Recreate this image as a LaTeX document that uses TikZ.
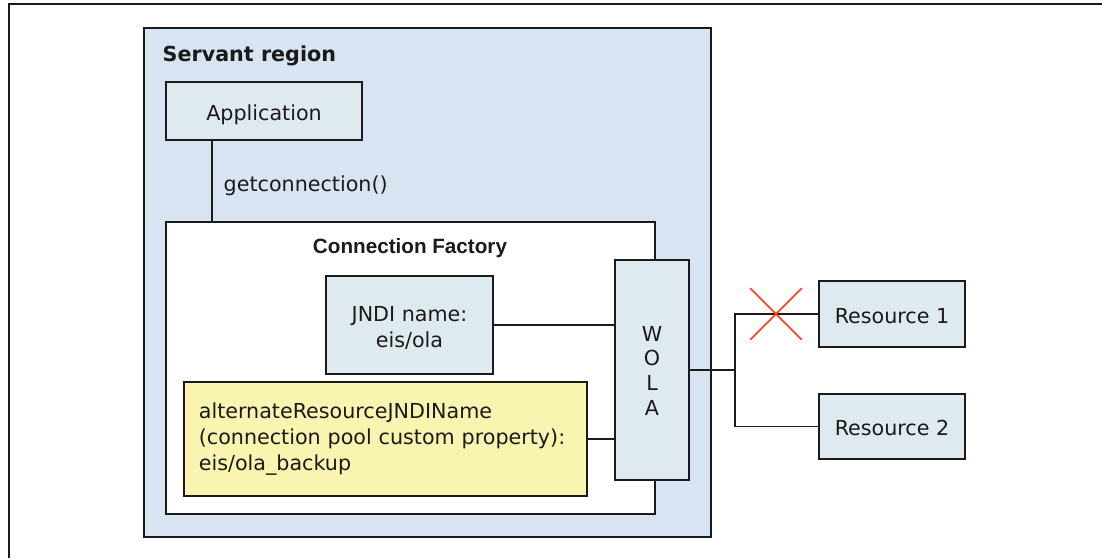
\documentclass[tikz,border=0pt]{standalone}
\usepackage{fontspec}
\setmainfont{DejaVu Sans}
\newfontfamily\arialfont{Liberation Sans}
\usetikzlibrary{shapes.misc}
\definecolor{servantfill}{HTML}{D8E4F1}
\definecolor{boxfill}{HTML}{DFE9F0}
\definecolor{yelfill}{HTML}{F9F5B0}
\definecolor{xred}{HTML}{FF3A12}
\definecolor{ink}{HTML}{1A1A1A}
\tikzset{
  box/.style={draw=ink, line width=1pt, rectangle, inner sep=0pt, align=center, text=ink,
    font=\fontsize{15.5}{19.5}\selectfont},
  oneline/.style={text height=13.5pt, text depth=0pt},
  conn/.style={draw=ink, line width=1pt},
}
\begin{document}
\begin{tikzpicture}[x=0.75pt, y=-0.75pt]
\useasboundingbox (0,0) rectangle (1102,558);
\fill[white] (0,0) rectangle (1102,558);
% outer frame
\coordinate (fa) at (9,558);
\coordinate (fb) at (9,4);
\coordinate (fc) at (1102,4);
\draw[ink, line width=0.8pt] (fa) -- (fb) -- (fc);

% servant region
\node[box, fill=servantfill, minimum width=425.25pt, minimum height=381.75pt] (srv) at (427.5,282.5) {};
\node[anchor=west, text=ink, font=\fontsize{15.5}{19}\selectfont\bfseries] (srvlabel) at (158,56) {Servant region};

% application
\node[box, oneline, fill=boxfill, minimum width=147pt, minimum height=43.5pt] (app) at (264,111) {Application};

% connection factory
\node[box, fill=white, minimum width=366.75pt, minimum height=219pt] (cf) at (410.5,368) {};
\node[text=ink, font=\arialfont\fontsize{15.5}{19}\selectfont\bfseries] (cflabel) at (410,248) {Connection Factory};

% JNDI box
\node[box, fill=boxfill, minimum width=125.25pt, minimum height=73.5pt, text height=0pt, text depth=6pt] (jndi) at (409.5,325) {\begin{tabular}[t]{@{}c@{}}JNDI name:\\eis/ola\end{tabular}};

% yellow box
\node[box, fill=yelfill, minimum width=302.25pt, minimum height=85.5pt, align=left, text width=280pt] (yel) at (385.5,439)
  {alternateResourceJNDIName\\(connection pool custom property):\\eis/ola\_backup};

% WOLA
\node[box, fill=boxfill, minimum width=55.5pt, minimum height=165pt, font=\fontsize{15.5}{18.5}\selectfont, text height=0pt, text depth=43.5pt] (wola) at (652,370) {\begin{tabular}[t]{@{}c@{}}W\\O\\L\\A\end{tabular}};

% resources
\node[box, oneline, fill=boxfill, minimum width=109.5pt, minimum height=49.5pt] (r1) at (892,314) {Resource 1};
\node[box, fill=boxfill, minimum width=109.5pt, minimum height=48.75pt, text height=12.75pt, text depth=0pt] (r2) at (892,426.5) {Resource 2};

% connectors
\coordinate (k) at (212,0);
\draw[conn] (app.south -| k) -- (cf.north -| k);
\node[anchor=west, text=ink, font=\fontsize{15.5}{19}\selectfont] (gc) at (219,186) {getconnection()};
\draw[conn] (jndi.east) -- (jndi.east -| wola.west);
\draw[conn] (yel.east) -- (yel.east -| wola.west);
\coordinate (j) at (735,370);
\draw[conn] (wola.east) -- (j);
\draw[conn] (r1.west) -| (j) |- (r2.west);

% red cross
\node[cross out, draw=xred, line width=1.2pt, minimum width=37.5pt, minimum height=37.5pt, inner sep=0pt] (xx) at (776,314) {};
\end{tikzpicture}
\end{document}
